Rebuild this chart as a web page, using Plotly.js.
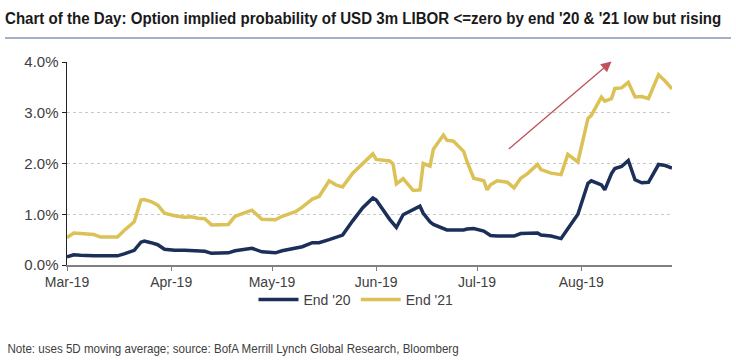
<!DOCTYPE html>
<html>
<head>
<meta charset="utf-8">
<script src="https://cdn.plot.ly/plotly-3.0.1.min.js"></script>
<style>html,body{margin:0;padding:0;background:#fff;}#chart{width:736px;height:361px;}</style>
</head>
<body>
<div id="chart"></div>
<script>
const dates = ['2019-03-01','2019-03-03','2019-03-05','2019-03-07','2019-03-09','2019-03-11','2019-03-14','2019-03-16','2019-03-18','2019-03-21','2019-03-23','2019-03-24','2019-03-26','2019-03-28','2019-03-30',
'2019-04-02','2019-04-05','2019-04-07','2019-04-09','2019-04-11','2019-04-13','2019-04-18','2019-04-20','2019-04-24','2019-04-25','2019-04-28',
'2019-05-02','2019-05-04','2019-05-08','2019-05-10','2019-05-13','2019-05-15','2019-05-18','2019-05-20','2019-05-22','2019-05-25','2019-05-28','2019-05-31',
'2019-06-01','2019-06-05','2019-06-06','2019-06-07','2019-06-09','2019-06-12','2019-06-14','2019-06-15','2019-06-17','2019-06-18','2019-06-21','2019-06-22','2019-06-24','2019-06-27','2019-06-28','2019-06-30',
'2019-07-03','2019-07-04','2019-07-05','2019-07-07','2019-07-10','2019-07-12','2019-07-14','2019-07-16','2019-07-19','2019-07-20','2019-07-23','2019-07-26','2019-07-28','2019-07-31',
'2019-08-03','2019-08-04','2019-08-07','2019-08-08','2019-08-10','2019-08-11','2019-08-13','2019-08-15','2019-08-17','2019-08-19','2019-08-21','2019-08-24','2019-08-26','2019-08-28'];

const end21 = [0.54,0.63,0.62,0.61,0.60,0.55,0.55,0.55,0.68,0.85,1.28,1.29,1.25,1.18,1.02,
0.97,0.94,0.95,0.92,0.91,0.79,0.80,0.96,1.05,1.08,0.90,
0.89,0.96,1.05,1.14,1.30,1.35,1.66,1.58,1.54,1.81,2.00,2.19,
2.08,2.05,1.99,1.60,1.70,1.47,1.48,2.00,1.95,2.28,2.56,2.46,2.44,2.24,2.04,1.71,
1.66,1.48,1.58,1.66,1.63,1.52,1.71,1.80,1.98,1.88,1.81,1.78,2.18,2.03,
2.89,2.95,3.31,3.23,3.28,3.48,3.49,3.60,3.31,3.32,3.28,3.75,3.62,3.47];

const end20 = [0.16,0.20,0.19,0.18,0.18,0.18,0.18,0.18,0.22,0.29,0.45,0.47,0.44,0.40,0.31,
0.29,0.29,0.28,0.28,0.27,0.23,0.24,0.28,0.32,0.33,0.26,
0.24,0.28,0.33,0.36,0.44,0.44,0.50,0.55,0.59,0.87,1.13,1.32,
1.28,0.90,0.81,0.74,0.99,1.10,1.16,1.02,0.85,0.80,0.72,0.69,0.69,0.69,0.71,0.72,
0.67,0.62,0.58,0.57,0.56,0.57,0.62,0.63,0.63,0.59,0.57,0.52,0.72,1.00,
1.61,1.66,1.58,1.48,1.80,1.90,1.94,2.06,1.68,1.62,1.63,1.98,1.96,1.91];

const tickDates = ['2019-03-01','2019-04-01','2019-05-01','2019-06-01','2019-07-01','2019-08-01'];
const tickLabels = ['Mar-19','Apr-19','May-19','Jun-19','Jul-19','Aug-19'];
const yTicks = [0,1,2,3,4];
const yTickLabels = ['0.0%','1.0%','2.0%','3.0%','4.0%'];
const seriesNames = ["End '20","End '21"];
const titleText = "Chart of the Day: Option implied probability of USD 3m LIBOR <=zero by end '20 & '21 low but rising";
const noteText = "Note: uses 5D moving average; source: BofA Merrill Lynch Global Research, Bloomberg";
const arrowFrom = {x:'2019-07-10', y:2.26};
const arrowTo = {x:'2019-08-10', y:4.01};

const traces = [
  {x: dates, y: end20, name: seriesNames[0], type:'scatter', mode:'lines',
   line:{color:'#1b2f58', width:3.5}},
  {x: dates, y: end21, name: seriesNames[1], type:'scatter', mode:'lines',
   line:{color:'#dcc157', width:3.5}}
];

const W = 736, H = 361, L = 67, R = 64, T = 62, B = 96;
const pw = W - L - R, ph = H - T - B;

const layout = {
  width: W, height: H,
  margin:{l:L, r:R, t:T, b:B, pad:0},
  paper_bgcolor:'#fff', plot_bgcolor:'#fff',
  font:{family:'Arial, Liberation Sans, sans-serif', size:14, color:'#404040'},
  title:{text:'<b>'+titleText+'</b>', x:5/W, xanchor:'left', xref:'container',
         y:1-18/H, yanchor:'middle', yref:'container',
         font:{family:'Liberation Sans, Arial, sans-serif', size:17, color:'#1a1a1a'}},
  xaxis:{type:'date', range:['2019-03-01','2019-08-28'], tickmode:'array', tickvals:tickDates, ticktext:tickLabels,
         ticks:'outside', ticklen:4, tickcolor:'#808080', showline:true, linecolor:'#808080', linewidth:1.5,
         showgrid:false, zeroline:false, tickfont:{size:14, color:'#404040'}, fixedrange:true},
  yaxis:{range:[0,4], tickmode:'array', tickvals:yTicks, ticktext:yTickLabels,
         ticks:'outside', ticklen:4, tickcolor:'#222', showline:true, linecolor:'#222', linewidth:1.5,
         showgrid:true, gridcolor:'#c8c8c8', griddash:'dot', gridwidth:1, zeroline:false,
         tickfont:{size:15, color:'#404040'}, fixedrange:true},
  legend:{orientation:'h', x:(356-L)/pw, xanchor:'center', y:-(300-(T+ph))/ph, yanchor:'middle',
          font:{size:14, color:'#404040'}, itemwidth:40, tracegroupgap:0, bgcolor:'rgba(0,0,0,0)'},
  showlegend:true,
  shapes:[
    {type:'line', xref:'paper', yref:'paper', x0:(5-L)/pw, x1:(731-L)/pw,
     y0:(T+ph-38)/ph, y1:(T+ph-38)/ph, line:{color:'#8796b0', width:1.5}}
  ],
  annotations:[
    {x:arrowTo.x, y:arrowTo.y, ax:arrowFrom.x, ay:arrowFrom.y, xref:'x', yref:'y', axref:'x', ayref:'y',
     showarrow:true, arrowhead:2, arrowsize:1.6, arrowwidth:1.3, arrowcolor:'#c0505a', text:''},
    {text:noteText, xref:'paper', yref:'paper', x:(5-L)/pw, xanchor:'left',
     y:-(348-(T+ph))/ph, yanchor:'middle', showarrow:false,
     font:{size:13, color:'#404040'}}
  ]
};

function condense(el, target){
  if (!el) return;
  const box = el.getBBox();
  const len = box.width;
  if (len > target) {
    const s = target / len;
    const x0 = box.x;
    const prev = el.getAttribute('transform') || '';
    el.setAttribute('transform', prev + ' translate(' + (x0 * (1 - s)) + ',0) scale(' + s + ',1)');
  }
}

Plotly.newPlot('chart', traces, layout, {displayModeBar:false, staticPlot:true}).then(function(gd){
  // mimic the narrow faces of the original
  condense(gd.querySelector('.gtitle'), 717);
  const notes = gd.querySelectorAll('.annotation-text');
  notes.forEach(function(n){ if (n.textContent.indexOf('Note:') === 0) condense(n, 452); });
});
</script>
</body>
</html>
